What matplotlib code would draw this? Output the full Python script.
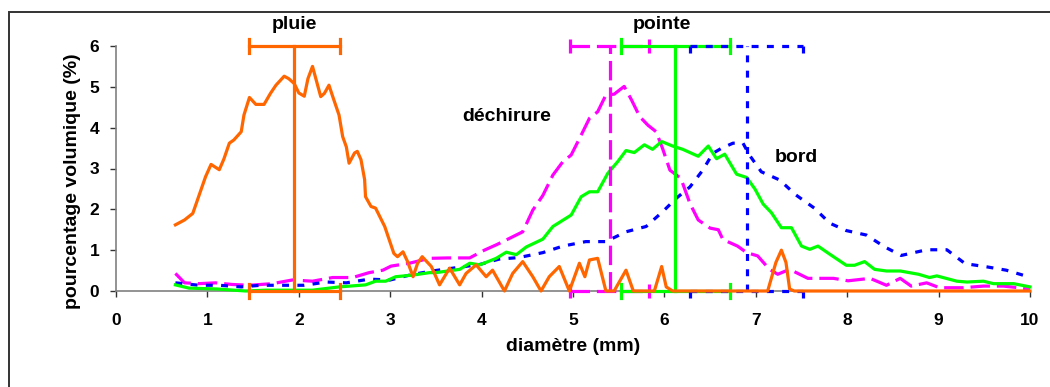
import matplotlib
matplotlib.use("Agg")
import matplotlib.pyplot as plt
from matplotlib.patches import Rectangle

plt.rcParams['font.family'] = ['Liberation Sans', 'DejaVu Sans']
plt.rcParams['lines.scale_dashes'] = False

# ---- data ----
pluie_x = [0.65, 0.75, 0.84, 0.91, 0.98, 1.04, 1.13, 1.18, 1.24, 1.29, 1.37, 1.40, 1.46, 1.53, 1.62,
           1.69, 1.75, 1.84, 1.89, 1.95, 2.00, 2.06, 2.10, 2.15, 2.19, 2.24, 2.28, 2.33, 2.37, 2.44,
           2.48, 2.52, 2.55, 2.61, 2.64, 2.68, 2.72, 2.73, 2.79, 2.84, 2.94, 2.99, 3.04, 3.08, 3.14,
           3.19, 3.25, 3.30, 3.35, 3.45, 3.54, 3.65, 3.76, 3.83, 3.94, 4.05, 4.12, 4.25, 4.34, 4.45,
           4.56, 4.65, 4.74, 4.85, 4.96, 5.07, 5.13, 5.18, 5.27, 5.36, 5.45, 5.58, 5.66, 5.75, 5.89,
           5.97, 6.02, 6.09, 6.50, 7.00, 7.13, 7.22, 7.28, 7.33, 7.37, 7.42, 8.0, 9.0, 10.0]
pluie_y = [1.62, 1.74, 1.90, 2.35, 2.80, 3.10, 2.97, 3.23, 3.62, 3.70, 3.90, 4.31, 4.74, 4.57, 4.57,
           4.84, 5.04, 5.26, 5.20, 5.08, 4.85, 4.77, 5.20, 5.50, 5.17, 4.76, 4.84, 5.04, 4.77, 4.31,
           3.78, 3.53, 3.13, 3.38, 3.42, 3.22, 2.73, 2.31, 2.07, 2.03, 1.58, 1.25, 0.92, 0.84, 0.96,
           0.72, 0.35, 0.68, 0.84, 0.60, 0.15, 0.56, 0.15, 0.43, 0.64, 0.35, 0.51, 0.00, 0.43, 0.72,
           0.35, 0.00, 0.35, 0.60, 0.00, 0.68, 0.35, 0.76, 0.80, 0.00, 0.00, 0.51, 0.00, 0.00, 0.00,
           0.60, 0.10, 0.00, 0.00, 0.00, 0.00, 0.70, 1.00, 0.70, 0.05, 0.00, 0.00, 0.00, 0.00]

pointe_x = [0.65, 0.80, 1.10, 1.42, 1.64, 2.15, 2.44, 2.73, 2.84, 2.95, 3.06, 3.25, 3.43, 3.50, 3.76,
            3.87, 3.98, 4.16, 4.27, 4.38, 4.49, 4.67, 4.78, 4.98, 5.09, 5.18, 5.27, 5.38, 5.49, 5.58,
            5.67, 5.78, 5.87, 5.97, 6.09, 6.20, 6.37, 6.48, 6.57, 6.66, 6.79, 6.90, 6.99, 7.08, 7.17,
            7.28, 7.39, 7.50, 7.59, 7.68, 7.81, 7.99, 8.08, 8.19, 8.30, 8.43, 8.58, 8.78, 8.90, 8.98,
            9.20, 9.31, 9.49, 9.60, 9.82, 10.0]
pointe_y = [0.15, 0.07, 0.05, 0.00, 0.02, 0.02, 0.10, 0.15, 0.24, 0.24, 0.35, 0.39, 0.45, 0.45, 0.53,
            0.68, 0.64, 0.80, 0.95, 0.89, 1.08, 1.27, 1.58, 1.86, 2.31, 2.43, 2.43, 2.88, 3.17, 3.44,
            3.39, 3.58, 3.47, 3.66, 3.55, 3.47, 3.30, 3.55, 3.24, 3.35, 2.86, 2.78, 2.50, 2.13, 1.92,
            1.55, 1.55, 1.10, 1.02, 1.10, 0.90, 0.63, 0.63, 0.72, 0.53, 0.49, 0.49, 0.41, 0.33, 0.37,
            0.24, 0.22, 0.24, 0.18, 0.18, 0.10]

dechirure_x = [0.65, 0.75, 0.91, 1.09, 1.27, 1.46, 1.71, 1.93, 2.15, 2.37, 2.59, 2.77, 2.92, 3.01, 3.21,
               3.43, 3.63, 3.87, 4.03, 4.16, 4.27, 4.45, 4.56, 4.67, 4.78, 4.89, 4.98, 5.09, 5.18, 5.27,
               5.36, 5.45, 5.56, 5.64, 5.73, 5.82, 5.91, 5.98, 6.06, 6.18, 6.28, 6.37, 6.50, 6.59, 6.64,
               6.80, 6.90, 7.02, 7.15, 7.24, 7.37, 7.57, 7.85, 8.01, 8.25, 8.43, 8.58, 8.70, 8.87, 9.01,
               9.27, 9.49, 9.71, 10.0]
dechirure_y = [0.43, 0.20, 0.18, 0.20, 0.16, 0.14, 0.18, 0.27, 0.24, 0.33, 0.33, 0.45, 0.51, 0.61, 0.68,
               0.80, 0.81, 0.81, 1.00, 1.13, 1.25, 1.45, 1.98, 2.34, 2.84, 3.17, 3.33, 3.82, 4.23, 4.39,
               4.80, 4.82, 5.01, 4.68, 4.27, 4.06, 3.90, 3.49, 2.96, 2.76, 2.14, 1.74, 1.54, 1.50, 1.26,
               1.10, 0.94, 0.86, 0.53, 0.41, 0.53, 0.31, 0.31, 0.25, 0.31, 0.14, 0.31, 0.12, 0.20, 0.08,
               0.08, 0.12, 0.12, 0.05]

bord_x = [0.65, 0.91, 1.13, 1.37, 1.58, 1.84, 2.06, 2.30, 2.52, 2.77, 3.00, 3.23, 3.46, 3.72, 3.98,
          4.19, 4.41, 4.67, 4.89, 5.14, 5.36, 5.58, 5.80, 5.98, 6.13, 6.28, 6.42, 6.53, 6.62, 6.75,
          6.86, 6.93, 7.06, 7.26, 7.44, 7.64, 7.81, 7.99, 8.21, 8.41, 8.59, 8.87, 9.09, 9.29, 9.53,
          9.74, 9.98]
bord_y = [0.20, 0.14, 0.14, 0.10, 0.14, 0.14, 0.14, 0.22, 0.20, 0.29, 0.27, 0.40, 0.49, 0.57, 0.65,
          0.78, 0.82, 0.94, 1.10, 1.21, 1.21, 1.45, 1.58, 1.94, 2.27, 2.55, 2.96, 3.37, 3.49, 3.62,
          3.62, 3.33, 2.92, 2.72, 2.35, 2.03, 1.66, 1.48, 1.37, 1.08, 0.87, 1.01, 1.01, 0.67, 0.59,
          0.51, 0.35]

# error bars: centre, half width (horizontal), height
bar_names = ['pluie', 'déchirure', 'pointe', 'bord']
bar_centre = [1.95, 5.40, 6.12, 6.90]
bar_half = [0.50, 0.43, 0.60, 0.62]
bar_top = 6.0

x_ticks = [0, 1, 2, 3, 4, 5, 6, 7, 8, 9, 10]
y_ticks = [0, 1, 2, 3, 4, 5, 6]

# ---- styles ----
c_pluie = '#FF6600'
c_pointe = '#00FF00'
c_dech = '#FF00FF'
c_bord = '#0000FF'
ls_dech = (0, (14, 5))
ls_bord = (0, (5, 6))

fig = plt.figure(figsize=(10.5, 3.87), dpi=100)
ax = fig.add_axes([116 / 1050, 1 - 291 / 387, (1030 - 116) / 1050, (291 - 46) / 387])

lw = 2.3
ax.plot(dechirure_x, dechirure_y, color=c_dech, lw=lw, ls=ls_dech, clip_on=False, zorder=3)
ax.plot(bord_x, bord_y, color=c_bord, lw=lw, ls=ls_bord, clip_on=False, zorder=3)
ax.plot(pointe_x, pointe_y, color=c_pointe, lw=lw, clip_on=False, zorder=4)
ax.plot(pluie_x, pluie_y, color=c_pluie, lw=lw, clip_on=False, zorder=5)

styles = [(c_pluie, '-'), (c_dech, ls_dech), (c_pointe, '-'), (c_bord, ls_bord)]
capsz = 0.17
for (col, ls), c, h in zip(styles, bar_centre, bar_half):
    kw = dict(color=col, lw=2.3, ls=ls, clip_on=False, zorder=4)
    ax.plot([c, c], [0, bar_top], **kw)
    ax.plot([c - h, c + h], [bar_top, bar_top], **kw)
    ax.plot([c - h, c + h], [0, 0], **kw)
    for yy in (0, bar_top):
        for xx in (c - h, c + h):
            ax.plot([xx, xx], [yy - capsz, yy + capsz], **kw)

ax.set_xlim(0, 10)
ax.set_ylim(0, 6)
ax.set_xticks(x_ticks)
ax.set_yticks(y_ticks)
for s in ['top', 'right']:
    ax.spines[s].set_visible(False)
ax.spines['bottom'].set_color('#808080')
ax.spines['left'].set_color('#808080')
ax.spines['bottom'].set_linewidth(1.2)
ax.spines['left'].set_linewidth(1.2)
ax.tick_params(axis='x', length=4, width=1, color='#333333', pad=12, labelsize=12.5)
ax.tick_params(axis='y', length=4, width=1, color='#333333', pad=8, labelsize=12.5)
for lab in ax.get_xticklabels() + ax.get_yticklabels():
    lab.set_fontweight('bold')

ax.set_xlabel('diamètre (mm)', fontsize=14, fontweight='bold', labelpad=7)
ax.set_ylabel('pourcentage volumique (%)', fontsize=14, fontweight='bold')
ax.yaxis.set_label_coords(-0.038, 0.45)

tkw = dict(fontsize=14, fontweight='bold', ha='center', va='center')
ax.text(1.95, 6.52, 'pluie', **tkw)
ax.text(5.97, 6.52, 'pointe', **tkw)
ax.text(4.27, 4.27, 'déchirure', **tkw)
ax.text(7.44, 3.28, 'bord', **tkw)

fig.add_artist(Rectangle((9 / 1050, -0.2), 1.2, 1.2 - 12 / 387, transform=fig.transFigure,
                         fill=False, lw=1.4, ec='#333333'))

fig.savefig('out.png', dpi=100)
